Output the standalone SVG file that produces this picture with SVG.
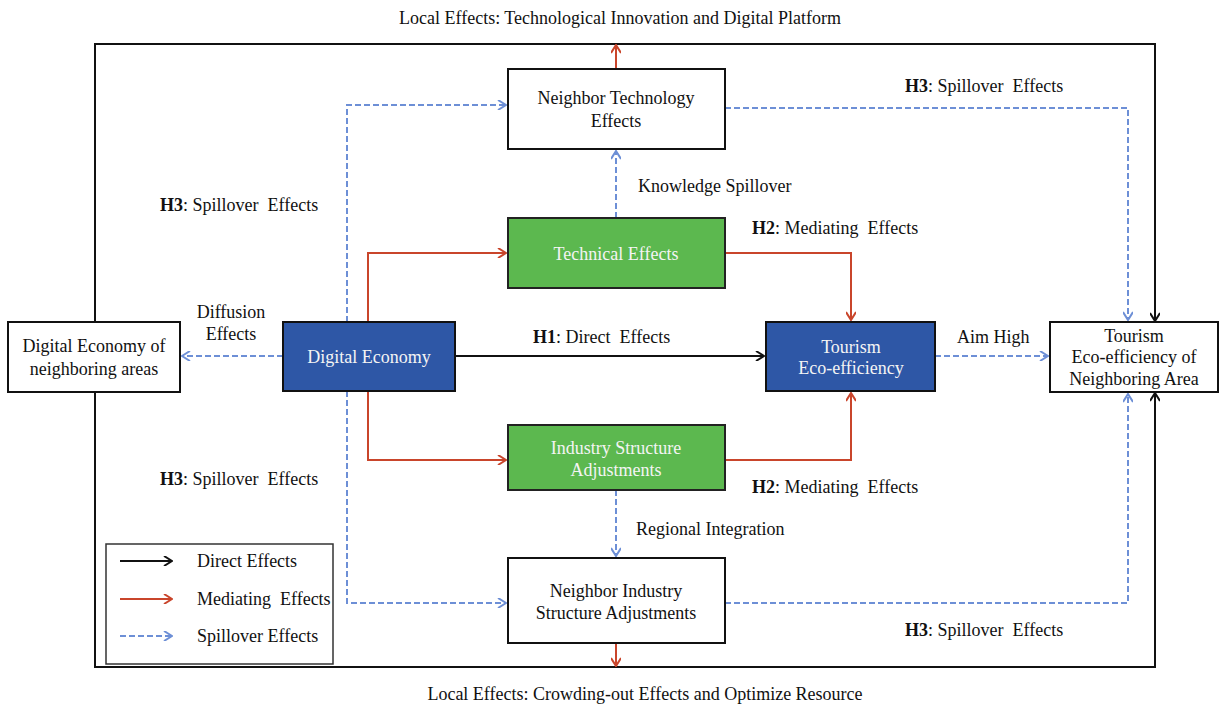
<svg xmlns="http://www.w3.org/2000/svg" width="1221" height="709" viewBox="0 0 1221 709">
<style>
text{font-family:"Liberation Serif","Times New Roman",serif;font-size:18px;fill:#111}
.c{text-anchor:middle}
.w{fill:#f4f4f4}
.box{fill:#fff;stroke:#111;stroke-width:2}
.green{fill:#5cb84f;stroke:#222;stroke-width:2}
.blue{fill:#2e57a6;stroke:#111;stroke-width:2}
.blk{fill:none;stroke:#111;stroke-width:2}
.red{fill:none;stroke:#c9452b;stroke-width:2}
.dash{fill:none;stroke:#6d8fd6;stroke-width:2;stroke-dasharray:6 3}
</style>
<defs>
<marker id="ab" viewBox="0 0 10 10" refX="9" refY="5" markerWidth="10" markerHeight="10" markerUnits="userSpaceOnUse" orient="auto"><path d="M1,0 L9,5 L1,10" fill="none" stroke="#111" stroke-width="2"/></marker>
<marker id="ar" viewBox="0 0 10 10" refX="9" refY="5" markerWidth="10" markerHeight="10" markerUnits="userSpaceOnUse" orient="auto"><path d="M1,0 L9,5 L1,10" fill="none" stroke="#c9452b" stroke-width="2"/></marker>
<marker id="ad" viewBox="0 0 10 10" refX="9" refY="5" markerWidth="10" markerHeight="10" markerUnits="userSpaceOnUse" orient="auto"><path d="M1,0 L9,5 L1,10" fill="none" stroke="#6d8fd6" stroke-width="2"/></marker>
</defs>
<rect width="1221" height="709" fill="#fff"/>

<g id="connectors">
<path class="blk" d="M95,322 V44 H1155 V321" marker-end="url(#ab)"/>
<path class="blk" d="M95,392 V667 H1155 V393" marker-end="url(#ab)"/>
<path class="red" d="M616,69 V45" marker-end="url(#ar)"/>
<path class="red" d="M616,643 V666" marker-end="url(#ar)"/>
<path class="dash" d="M347,322 V105 H506" marker-end="url(#ad)"/>
<path class="dash" d="M347,391 V603 H506" marker-end="url(#ad)"/>
<path class="red" d="M368,322 V253 H506" marker-end="url(#ar)"/>
<path class="red" d="M368,391 V460 H506" marker-end="url(#ar)"/>
<path class="red" d="M725,253 H851 V320" marker-end="url(#ar)"/>
<path class="red" d="M725,460 H851 V393" marker-end="url(#ar)"/>
<path class="blk" d="M455,356 H764" marker-end="url(#ab)" stroke-width="2.5"/>
<path class="dash" d="M616,218 V151" marker-end="url(#ad)"/>
<path class="dash" d="M616,490 V556" marker-end="url(#ad)"/>
<path class="dash" d="M283,356 H182" marker-end="url(#ad)"/>
<path class="dash" d="M935,356 H1048" marker-end="url(#ad)"/>
<path class="dash" d="M725,108 H1128 V320" marker-end="url(#ad)"/>
<path class="dash" d="M725,603 H1128 V394" marker-end="url(#ad)"/>
</g>

<g id="node-neighbor-tech">
<rect class="box" x="508" y="69" width="217" height="80"/>
<text class="c" x="616" y="104">Neighbor Technology</text>
<text class="c" x="616" y="127">Effects</text>
</g>
<g id="node-technical">
<rect class="green" x="508" y="218" width="217" height="70"/>
<text class="c w" x="616" y="260">Technical Effects</text>
</g>
<g id="node-digital-economy">
<rect class="blue" x="283" y="322" width="172" height="69"/>
<text class="c w" x="369" y="363">Digital Economy</text>
</g>
<g id="node-tourism">
<rect class="blue" x="766" y="322" width="169" height="69"/>
<text class="c w" x="851" y="353">Tourism</text>
<text class="c w" x="851" y="374">Eco-efficiency</text>
</g>
<g id="node-de-neighbor">
<rect class="box" x="8" y="322" width="172" height="70"/>
<text class="c" x="94" y="352">Digital Economy of</text>
<text class="c" x="94" y="375">neighboring areas</text>
</g>
<g id="node-tourism-neighbor">
<rect class="box" x="1050" y="322" width="168" height="70"/>
<text class="c" x="1134" y="342">Tourism</text>
<text class="c" x="1134" y="363">Eco-efficiency of</text>
<text class="c" x="1134" y="385">Neighboring Area</text>
</g>
<g id="node-industry">
<rect class="green" x="508" y="425" width="217" height="65"/>
<text class="c w" x="616" y="454">Industry Structure</text>
<text class="c w" x="616" y="476">Adjustments</text>
</g>
<g id="node-neighbor-industry">
<rect class="box" x="508" y="558" width="217" height="85"/>
<text class="c" x="616" y="597">Neighbor Industry</text>
<text class="c" x="616" y="619">Structure Adjustments</text>
</g>

<g id="labels">
<text class="c" x="620" y="24">Local Effects: Technological Innovation and Digital Platform</text>
<text class="c" x="645" y="700">Local Effects: Crowding-out Effects and Optimize Resource</text>
<text x="160" y="211"><tspan font-weight="bold">H3</tspan>: Spillover&#160; Effects</text>
<text x="905" y="92"><tspan font-weight="bold">H3</tspan>: Spillover&#160; Effects</text>
<text x="160" y="485"><tspan font-weight="bold">H3</tspan>: Spillover&#160; Effects</text>
<text x="905" y="636"><tspan font-weight="bold">H3</tspan>: Spillover&#160; Effects</text>
<text x="752" y="234"><tspan font-weight="bold">H2</tspan>: Mediating&#160; Effects</text>
<text x="752" y="493"><tspan font-weight="bold">H2</tspan>: Mediating&#160; Effects</text>
<text x="638" y="192">Knowledge Spillover</text>
<text x="636" y="535">Regional Integration</text>
<text class="c" x="231" y="318">Diffusion</text>
<text class="c" x="231" y="340">Effects</text>
<text x="533" y="343"><tspan font-weight="bold">H1</tspan>: Direct&#160; Effects</text>
<text x="957" y="343">Aim High</text>
</g>

<g id="legend">
<rect x="106" y="544" width="227" height="120" fill="#fff" stroke="#333" stroke-width="1.5"/>
<path class="blk" d="M120,561 H172" marker-end="url(#ab)"/>
<path class="red" d="M120,599 H172" marker-end="url(#ar)"/>
<path class="dash" d="M120,636 H172" marker-end="url(#ad)"/>
<text x="197" y="567">Direct Effects</text>
<text x="197" y="605">Mediating&#160; Effects</text>
<text x="197" y="642">Spillover Effects</text>
</g>
</svg>
